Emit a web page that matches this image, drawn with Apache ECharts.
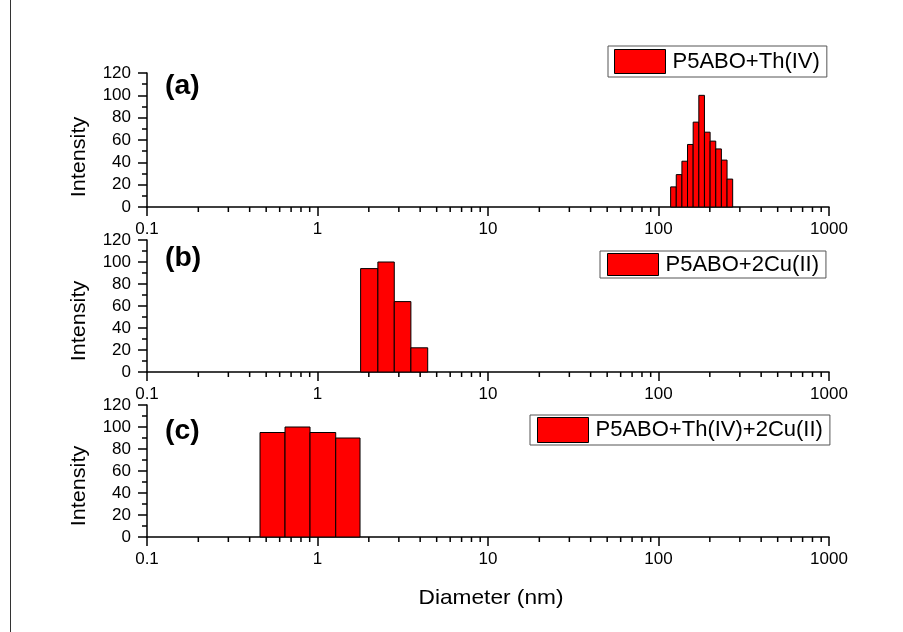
<!DOCTYPE html>
<html>
<head>
<meta charset="utf-8">
<script src="https://cdn.jsdelivr.net/npm/echarts@6/dist/echarts.min.js"></script>
<style>
  html, body { margin: 0; padding: 0; background: #fff; }
  #chart { width: 903px; height: 632px; }
</style>
</head>
<body>
<div id="chart"></div>
<script>
// bin edges (nm) and intensities
const binEdgesA = [117.8, 127.1, 137.2, 148.0, 159.7, 172.4, 186.0, 200.8, 216.7, 233.8, 252.4, 272.3];
const intensityA = [18, 29, 41, 56, 76, 100, 67, 59, 52, 42, 25];
const binEdgesB = [1.79, 2.26, 2.82, 3.53, 4.43];
const intensityB = [94, 100, 64, 22];
const binEdgesC = [0.46, 0.645, 0.904, 1.279, 1.776];
const intensityC = [95, 100, 95, 90];

const seriesNames = ['P5ABO+Th(IV)', 'P5ABO+2Cu(II)', 'P5ABO+Th(IV)+2Cu(II)'];
const panelLabels = ['(a)', '(b)', '(c)'];
// minor ticks of the log axis (2..9 in each decade)
const minorTicks = [0.2, 0.3, 0.4, 0.5, 0.6, 0.7, 0.8, 0.9,
  2, 3, 4, 5, 6, 7, 8, 9,
  20, 30, 40, 50, 60, 70, 80, 90,
  200, 300, 400, 500, 600, 700, 800, 900];

const FONT = '"Liberation Sans", Arial, sans-serif';

const grids = [
  { left: 147, top: 73, width: 682, height: 134 },
  { left: 147, top: 240, width: 682, height: 132 },
  { left: 147, top: 405, width: 682, height: 132 }
];
const legendPos = [
  { left: 608, top: 46, itemHeight: 24, padding: [3, 7, 3, 6] },
  { left: 600, top: 251, itemHeight: 22, padding: [2, 7, 2, 7] },
  { left: 530, top: 415, itemHeight: 25, padding: [2, 7, 2, 7] }
];
const labelY = [87, 259, 432];
const nameY = [157, 321, 486];

function toBins(edges, values) {
  return values.map((v, i) => [edges[i], edges[i + 1], v]);
}

function renderBar(params, api) {
  const p0 = api.coord([api.value(0), api.value(2)]);
  const p1 = api.coord([api.value(1), 0]);
  return {
    type: 'rect',
    shape: { x: p0[0], y: p0[1], width: p1[0] - p0[0], height: p1[1] - p0[1] },
    style: { fill: '#ff0000', stroke: '#000', lineWidth: 1 }
  };
}

function renderMinorTick(params, api) {
  const p = api.coord([api.value(0), 0]);
  return {
    type: 'line',
    shape: { x1: p[0], y1: p[1], x2: p[0], y2: p[1] + 5 },
    style: { stroke: '#000', lineWidth: 1.5 }
  };
}

const allBins = [
  toBins(binEdgesA, intensityA),
  toBins(binEdgesB, intensityB),
  toBins(binEdgesC, intensityC)
];

const xAxes = [], yAxes = [], series = [], legends = [], graphics = [];

grids.forEach((g, i) => {
  xAxes.push({
    type: 'log',
    logBase: 10,
    gridIndex: i,
    min: 0.1,
    max: 1000,
    axisLine: { lineStyle: { color: '#000', width: 1.5 } },
    axisTick: { length: 9, lineStyle: { color: '#000', width: 1.5 } },
    axisLabel: {
      color: '#000', fontSize: 17, fontFamily: FONT, margin: 14,
      formatter: v => String(+Number(v).toPrecision(3))
    },
    splitLine: { show: false }
  });
  yAxes.push({
    type: 'value',
    gridIndex: i,
    min: 0,
    max: 120,
    interval: 20,
    axisLine: { show: true, lineStyle: { color: '#000', width: 1.5 } },
    axisTick: { show: true, length: 9, lineStyle: { color: '#000', width: 1.5 } },
    minorTick: { show: true, splitNumber: 2, length: 5, lineStyle: { color: '#000', width: 1.5 } },
    axisLabel: { color: '#000', fontSize: 17, fontFamily: FONT, margin: 16 },
    splitLine: { show: false },
    minorSplitLine: { show: false }
  });
  series.push({
    name: seriesNames[i],
    type: 'custom',
    xAxisIndex: i,
    yAxisIndex: i,
    renderItem: renderBar,
    encode: { x: [0, 1], y: 2 },
    itemStyle: { color: '#ff0000', borderColor: '#000', borderWidth: 1 },
    data: allBins[i],
    z: 2
  });
  series.push({
    name: 'minor' + i,
    type: 'custom',
    xAxisIndex: i,
    yAxisIndex: i,
    silent: true,
    renderItem: renderMinorTick,
    encode: { x: 0, y: 1 },
    data: minorTicks.map(v => [v, 0]),
    z: 3
  });
  const lp = legendPos[i];
  legends.push({
    left: lp.left,
    top: lp.top,
    padding: lp.padding,
    itemWidth: 51,
    itemHeight: lp.itemHeight,
    borderColor: '#555',
    borderWidth: 1,
    backgroundColor: '#fff',
    selectedMode: false,
    data: [{
      name: seriesNames[i],
      icon: 'rect',
      itemStyle: { color: '#ff0000', borderColor: '#000', borderWidth: 1 }
    }],
    textStyle: { color: '#000', fontSize: 22, fontFamily: FONT, padding: [0, 0, 0, 2] }
  });
  graphics.push({
    type: 'text',
    x: 165,
    y: labelY[i],
    scaleX: 1.05,
    style: {
      text: panelLabels[i],
      fontSize: 27,
      fontWeight: 'bold',
      fontFamily: FONT,
      fill: '#000',
      align: 'left',
      verticalAlign: 'middle'
    }
  });
  graphics.push({
    type: 'text',
    x: 79,
    y: nameY[i],
    rotation: Math.PI / 2,
    scaleX: 1.08,
    style: {
      text: 'Intensity',
      fontSize: 20,
      fontFamily: FONT,
      fill: '#000',
      align: 'center',
      verticalAlign: 'middle'
    }
  });
});

graphics.push({
  type: 'text',
  x: 491,
  y: 598,
  scaleX: 1.08,
  style: {
    text: 'Diameter (nm)',
    fontSize: 21,
    fontFamily: FONT,
    fill: '#000',
    align: 'center',
    verticalAlign: 'middle'
  }
});
// thin frame line at the left edge
graphics.push({
  type: 'line',
  shape: { x1: 10.5, y1: 0, x2: 10.5, y2: 632 },
  style: { stroke: '#333', lineWidth: 1 }
});

const myChart = echarts.init(document.getElementById('chart'), null, { renderer: 'canvas' });
myChart.setOption({
  animation: false,
  backgroundColor: '#fff',
  grid: grids,
  xAxis: xAxes,
  yAxis: yAxes,
  legend: legends,
  series: series,
  graphic: graphics
});
</script>
</body>
</html>
